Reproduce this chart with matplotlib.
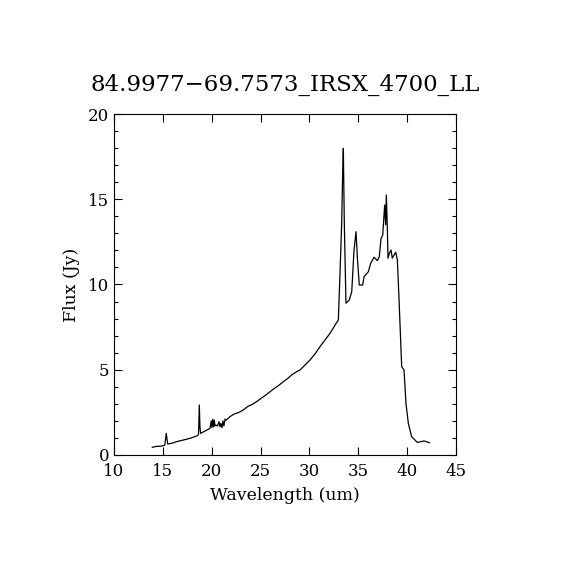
import numpy as np
import matplotlib
matplotlib.use('Agg')
import matplotlib.pyplot as plt
from matplotlib.ticker import MultipleLocator

# =====================================
# Spectrum values
# =====================================
wavelength = [
    13.92, 14.3, 14.88, 15.2, 15.35, 15.42, 15.5, 16.0, 16.4, 16.9, 17.4,
    17.9, 18.46, 18.65, 18.73, 18.8, 18.87, 19.3, 19.82, 19.95, 20.02,
    20.1, 20.18, 20.26, 20.34, 20.45, 20.6, 20.75, 20.85, 20.95, 21.05,
    21.15, 21.25, 21.36, 21.5, 21.87, 22.3, 22.8, 23.23, 23.7, 24.1, 24.6,
    25.0, 25.5, 25.97, 26.4, 26.9, 27.33, 27.8, 28.2, 28.7, 29.04, 29.5,
    30.06, 30.6, 31.08, 31.6, 32.1, 32.6, 32.96, 33.13, 33.3, 33.4, 33.47,
    33.57, 33.74, 34.08, 34.33, 34.56, 34.77, 34.9, 35.1, 35.45, 35.59,
    36.03, 36.27, 36.61, 36.95, 37.15, 37.33, 37.5, 37.7, 37.8, 37.87,
    37.97, 38.04, 38.18, 38.35, 38.48, 38.66, 38.83, 39.0, 39.2, 39.44,
    39.68, 39.88, 40.12, 40.46, 41.04, 41.4, 41.73, 42.27,
]
flux = [
    0.45, 0.5, 0.52, 0.58, 1.27, 0.95, 0.64, 0.7, 0.78, 0.85, 0.92,
    1.0, 1.11, 1.2, 2.93, 1.6, 1.27, 1.4, 1.56, 2.0, 1.6, 2.09, 1.65,
    2.05, 1.7, 1.75, 1.7, 1.95, 1.65, 1.85, 1.6, 2.0, 1.7, 2.1, 2.05,
    2.25, 2.4, 2.5, 2.64, 2.85, 2.95, 3.13, 3.3, 3.5, 3.71, 3.9, 4.1,
    4.3, 4.5, 4.7, 4.89, 4.99, 5.25, 5.57, 5.95, 6.35, 6.75, 7.13, 7.6,
    7.92, 10.66, 13.6, 16.5, 17.99, 13.6, 8.9, 9.09, 9.58, 12.0, 13.1,
    11.63, 9.97, 9.97, 10.46, 10.75, 11.24, 11.6, 11.4, 11.63, 12.71,
    12.9, 14.66, 13.5, 15.25, 13.4, 11.54, 11.83, 12.02, 11.54, 11.73,
    11.89, 11.44, 8.7, 5.18, 4.99, 3.03, 1.86, 1.07, 0.74, 0.78, 0.82,
    0.72,
]

x_ticks = [10, 15, 20, 25, 30, 35, 40, 45]
y_ticks = [0, 5, 10, 15, 20]

plt.rcParams['font.family'] = ['DejaVu Serif']

# =====================================
# Plot
# =====================================
fig = plt.figure(figsize=(5.7, 5.7), dpi=100)
ax = fig.add_axes([0.2, 0.2018, 0.6, 0.5982])

ax.plot(wavelength, flux, color='black', linewidth=0.9)

ax.set_xlim(10, 45)
ax.set_ylim(0, 20)
ax.set_xticks(x_ticks)
ax.set_yticks(y_ticks)
ax.yaxis.set_minor_locator(MultipleLocator(1))

ax.tick_params(which='both', direction='in', top=True, right=True,
               labelsize=12, width=0.8)
ax.tick_params(which='major', length=6)
ax.tick_params(which='minor', length=3)
ax.tick_params(axis='x', pad=6)

for spine in ax.spines.values():
    spine.set_linewidth(0.8)

ax.set_title('84.9977\u221269.7573_IRSX_4700_LL', fontsize=16.5, pad=17)
ax.set_xlabel('Wavelength (um)', fontsize=12.5, labelpad=5)
ax.set_ylabel('Flux (Jy)', fontsize=12.5, labelpad=6)

plt.savefig('out.png', dpi=100)
